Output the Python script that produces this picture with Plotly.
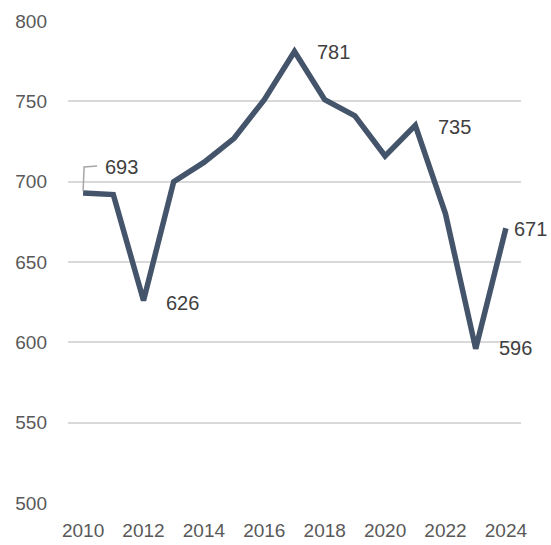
import plotly.graph_objects as go

years = list(range(2010, 2025))
values = [693, 692, 626, 700, 712, 727, 751, 781, 751, 741, 716, 735, 680, 596, 671]
label_years = [2010, 2012, 2017, 2021, 2023, 2024]

FONT = "Liberation Sans, Arial, sans-serif"
LINE = "#44546A"

fig = go.Figure()
fig.add_trace(go.Scatter(
    x=years, y=values, mode="lines",
    line=dict(color=LINE, width=5.5, shape="linear"),
    hoverinfo="skip", showlegend=False,
))

offsets = {2010: (20, 26), 2012: (20, -2), 2017: (20, 0), 2021: (21, -2), 2023: (21, 1), 2024: (6, -1)}
for yr in label_years:
    v = values[years.index(yr)]
    dx, dy = offsets[yr]
    fig.add_annotation(
        x=yr, y=v, text=str(v), showarrow=False,
        xanchor="left", yanchor="middle", xshift=dx, yshift=dy,
        font=dict(family=FONT, size=20, color="#404040"),
    )

# leader line for first label
fig.add_shape(
    type="path", xref="x", yref="y",
    xsizemode="pixel", ysizemode="pixel",
    xanchor=years[0], yanchor=values[0],
    path="M0,2 L1,26 L14,27",
    line=dict(color="#A6A6A6", width=1.5),
)

fig.update_layout(
    width=551, height=545,
    margin=dict(l=68, r=30, t=21, b=42),
    paper_bgcolor="white", plot_bgcolor="white",
    font=dict(family=FONT, size=19, color="#595959"),
)
fig.update_xaxes(
    range=[2009.5, 2024.5], tickmode="array",
    tickvals=list(range(2010, 2025, 2)),
    ticktext=[str(y) for y in range(2010, 2025, 2)],
    showgrid=False, zeroline=False, showline=False, ticks="",
    ticklabelstandoff=14, automargin=False,
)
fig.update_yaxes(
    range=[500, 800], tickvals=[500, 550, 600, 650, 700, 750, 800],
    showgrid=True, gridcolor="#D9D9D9", gridwidth=1.5,
    zeroline=False, showline=False, ticks="",
    ticklabelstandoff=20, automargin=False,
)
fig.write_html("out.html", config={"displayModeBar": False},
               post_script="document.body.style.margin='0';")
